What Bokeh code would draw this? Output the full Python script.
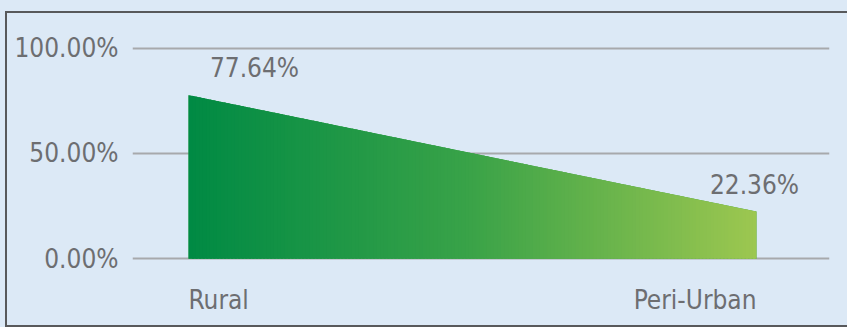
import numpy as np
from bokeh.plotting import figure
from bokeh.layouts import column
from bokeh.models import FixedTicker, Range1d
from bokeh.core.properties import value
from bokeh.embed import file_html
from bokeh.resources import INLINE

# ---- data ----
categories = ["Rural", "Peri-Urban"]
shares = [77.64, 22.36]
share_labels = ["77.64%", "22.36%"]
y_ticks = [0, 50, 100]
y_tick_labels = ["0.00%", "50.00%", "100.00%"]

# ---- style ----
BG = "#dce9f6"
TEXT = "#6d6e71"
GRID = "#a7a9ac"
BORDER = "2px solid #58595b"
FONT = "DejaVu Sans Condensed"
FSIZE = "26px"
GRAD_STOPS = [(0, 138, 68), (58, 163, 72), (157, 199, 80)]

p = figure(width=842, height=316,
           x_range=Range1d(-0.0986, 1.1285), y_range=Range1d(-33.6, 105),
           output_backend="svg", toolbar_location=None,
           x_axis_location=None,
           min_border_left=125, min_border_right=20,
           min_border_top=24, min_border_bottom=0,
           background_fill_color=BG, border_fill_color=BG,
           outline_line_color=None)
p.margin = (11, 0, 0, 5)
p.styles = {"border-left": BORDER, "border-top": BORDER,
            "border-bottom": BORDER, "border-right": "none"}

# y axis
p.yaxis.ticker = FixedTicker(ticks=y_ticks)
p.yaxis.major_label_overrides = {t: l for t, l in zip(y_ticks, y_tick_labels)}
p.yaxis.axis_line_color = None
p.yaxis.major_tick_line_color = None
p.yaxis.minor_tick_line_color = None
p.yaxis.major_label_standoff = 8
p.yaxis.major_label_text_font = FONT
p.yaxis.major_label_text_font_size = FSIZE
p.yaxis.major_label_text_color = TEXT
p.ygrid.ticker = FixedTicker(ticks=y_ticks)
p.ygrid.grid_line_color = GRID
p.ygrid.grid_line_width = 2
p.xgrid.visible = False

# area with horizontal gradient (rendered as thin strips along the data line)
xpos = list(range(len(categories)))
p.varea(x=xpos, y1=[0] * len(xpos), y2=shares, fill_color="#3aa348")

N = 160
edges = np.linspace(xpos[0], xpos[-1], N + 1)
eps = (xpos[-1] - xpos[0]) / N * 0.6
stops_t = np.linspace(0, 1, len(GRAD_STOPS))
xs, ys, cols = [], [], []
for i in range(N):
    x0 = edges[i]
    x1 = min(edges[i + 1] + eps, xpos[-1])
    t0, t1 = np.interp([x0, x1], xpos, shares)
    xs.append([x0, x0, x1, x1])
    ys.append([0, t0, t1, 0])
    t = (x0 - xpos[0] + (edges[1] - edges[0]) / 2) / (xpos[-1] - xpos[0])
    rgb = [int(round(np.interp(t, stops_t, [c[k] for c in GRAD_STOPS]))) for k in range(3)]
    cols.append("#%02x%02x%02x" % tuple(rgb))
p.patches(xs=xs, ys=ys, fill_color=cols, line_color=None)

# value labels
label_dx = [66, -2]
p.text(x=xpos, y=shares, text=share_labels, x_offset=label_dx, y_offset=-27,
       text_align="center", text_baseline="middle",
       text_font=value(FONT), text_font_size=FSIZE, text_color=TEXT)

# category labels
p.text(x=[xpos[0]], y=[0], text=[categories[0]], y_offset=41,
       text_align="left", text_baseline="middle",
       text_font=value(FONT), text_font_size=FSIZE, text_color=TEXT)
p.text(x=[xpos[-1]], y=[0], text=[categories[-1]], y_offset=41,
       text_align="right", text_baseline="middle",
       text_font=value(FONT), text_font_size=FSIZE, text_color=TEXT)

page = column(p, styles={"background-color": BG})

open("out.html", "w").write(file_html(page, INLINE))
